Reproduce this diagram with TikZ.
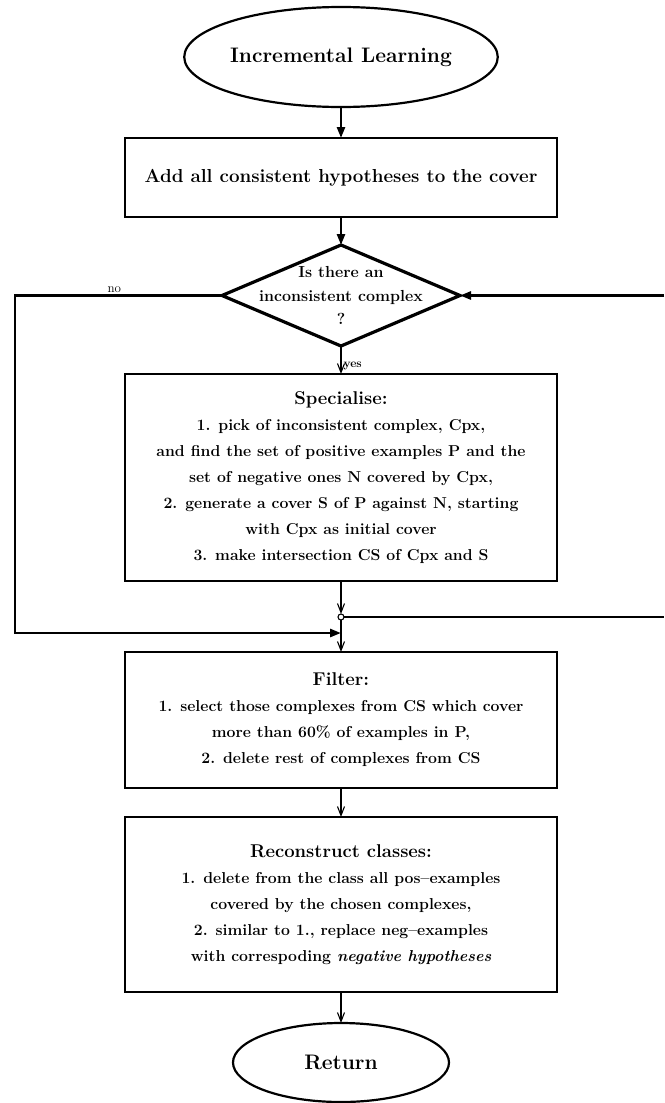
\documentclass[tikz,border=0pt]{standalone}
\usepackage{tikz}
\usetikzlibrary{arrows.meta,positioning,shapes.geometric}
\newcommand\hdfont{\fontsize{18.5}{26}\selectfont}

\begin{document}
\begin{tikzpicture}[
  x=1pt, y=1pt,
  font=\fontsize{15.8}{26}\selectfont\bfseries,
  proc/.style={draw, line width=2.8pt, minimum width=432pt, align=center, inner sep=0pt, outer sep=0pt},
  term/.style={ellipse, draw, line width=2.2pt, inner sep=0pt, outer sep=0pt, font=\fontsize{21}{24}\selectfont\bfseries},
  decide/.style={diamond, draw, line width=3.2pt, inner sep=0pt, outer sep=0pt, minimum width=238pt, minimum height=101pt},
  qtext/.style={align=center, font=\fontsize{16}{23.5}\selectfont\bfseries},
  joint/.style={circle, draw, line width=1.1pt, fill=white, minimum size=6pt, inner sep=0pt, outer sep=0pt},
  lbl/.style={inner sep=2pt},
  flow/.style={line width=2.6pt, -{Triangle[length=11pt, width=8pt]}},
  wire/.style={line width=2.6pt},
  link/.style={line width=1.1pt, -{Straight Barb[length=9pt, width=7pt]}}
]
  \useasboundingbox (0,0) rectangle (664,-1103);
  \coordinate (edge) at (664,0);

  \node[term, minimum width=258pt, minimum height=100pt] (start) at (341,-57) {Incremental Learning};
  \node[proc, minimum height=79pt, below=31pt of start, font=\fontsize{18.8}{26}\selectfont\bfseries] (add) {Add all consistent hypotheses to the cover};
  \node[decide, below=28pt of add] (test) {};
  \node[qtext] (testtxt) at (test) {Is there an\\inconsistent complex\\?};
  \node[proc, minimum height=207pt, below=28pt of test] (spec) {{\hdfont Specialise:}\\
    1. pick of inconsistent complex, Cpx,\\
    and find the set of positive examples P and the\\
    set of negative ones N covered by Cpx,\\
    2. generate a cover S of P against N, starting\\
    with Cpx as initial cover\\
    3. make intersection CS of Cpx and S};
  \node[joint, below=33pt of spec] (j1) {};
  \coordinate[below=13pt of j1] (j2);
  \node[proc, minimum height=136pt, below=19pt of j2] (filter) {{\hdfont Filter:}\\
    1. select those complexes from CS which cover\\
    more than 60\% of examples in P,\\
    2. delete rest of complexes from CS};
  \node[proc, minimum height=175pt, below=29pt of filter] (recon) {{\hdfont Reconstruct classes:}\\
    1. delete from the class all pos--examples\\
    covered by the chosen complexes,\\
    2. similar to 1., replace neg--examples\\
    with correspoding \textit{negative hypotheses}};
  \node[term, minimum width=216pt, minimum height=79pt, below=31pt of recon] (ret) {Return};

  \coordinate (rin) at (test.east -| edge);
  \coordinate (rout) at (j1 -| edge);

  \draw[flow] (start) -- (add);
  \draw[flow] (add) -- (test);
  \draw[link] (test) -- node[lbl, right, pos=0.7, font=\fontsize{12}{14}\selectfont\bfseries] {yes} (spec);
  \draw[link] (spec) -- (j1);
  \draw[line width=1.1pt] (j1) -- (j2);
  \draw[link] (j2) -- (filter);
  \draw[link] (filter) -- (recon);
  \draw[link] (recon) -- (ret);
  \draw[flow] (test.west) -- node[lbl, above, pos=0.52, font=\fontsize{13}{15}\selectfont\mdseries] {no} ++(-207,0) |- (j2);
  \draw[flow] (rin) -- (test.east);
  \draw[wire] (j1) -- (rout);
\end{tikzpicture}
\end{document}
